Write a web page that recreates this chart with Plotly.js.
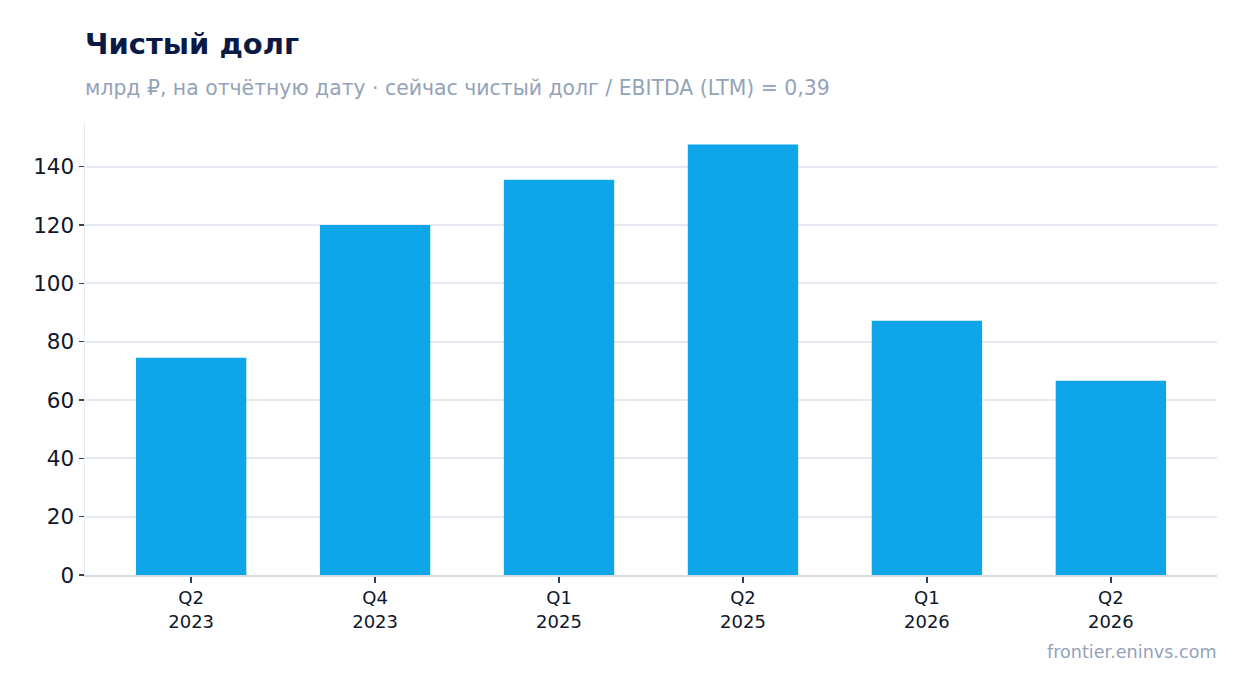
<!DOCTYPE html>
<html><head><meta charset="utf-8">
<script src="https://cdn.plot.ly/plotly-3.0.1.min.js"></script>
<style>html,body{margin:0;padding:0;background:#fff;}#c{width:1247px;height:693px;}</style>
</head><body><div id="c"></div>
<script>
const categories = ["Q2<br>2023","Q4<br>2023","Q1<br>2025","Q2<br>2025","Q1<br>2026","Q2<br>2026"];
const netDebt = [74.5, 120.0, 135.5, 147.6, 87.2, 66.6];
const yTicks = [0,20,40,60,80,100,120,140];
const titleText = "Чистый долг";
const subtitleText = "млрд ₽, на отчётную дату · сейчас чистый долг / EBITDA (LTM) = 0,39";
const sourceText = "frontier.eninvs.com";

const font = "DejaVu Sans, sans-serif";
Plotly.newPlot('c', [{
  type:'bar', x: categories, y: netDebt,
  marker:{color:'#0ea5e9'}, hoverinfo:'x+y'
}], {
  width:1247, height:693,
  margin:{l:85, r:30, t:123, b:118},
  paper_bgcolor:'#fff', plot_bgcolor:'#fff',
  bargap:0.4,
  font:{family:font, color:'#0f172a'},
  showlegend:false,
  xaxis:{type:'category', range:[-0.577,5.577], showline:true, linecolor:'#d5dae3', linewidth:1.5,
    ticks:'outside', ticklen:6, tickwidth:1.5, tickcolor:'#334155', tickfont:{size:18, color:'#0f172a', family:font},
    showgrid:false, zeroline:false},
  yaxis:{range:[0,155], tickvals:yTicks, showline:true, linecolor:'#e2e8f0', linewidth:1.5,
    ticks:'outside', ticklen:5, tickwidth:1.5, tickcolor:'#334155', tickfont:{size:21.5, color:'#0f172a', family:font},
    gridcolor:'#e6e9f0', gridwidth:2, zeroline:false},
  annotations:[
    {text:'<b>'+titleText+'</b>', xref:'paper', yref:'paper', x:0, y:1.1748, xanchor:'left', yanchor:'middle',
     xshift:-2, showarrow:false, font:{size:29, color:'#0b1a44', family:font}},
    {text:subtitleText, xref:'paper', yref:'paper', x:0, y:1.0774, xanchor:'left', yanchor:'middle',
     xshift:-2, showarrow:false, font:{size:20.4, color:'#94a3b8', family:font}},
    {text:sourceText, xref:'paper', yref:'paper', x:1, y:-0.1704, xanchor:'right', yanchor:'middle',
     xshift:2, showarrow:false, font:{size:17.6, color:'#94a3b8', family:font}}
  ]
}, {displayModeBar:false, staticPlot:true});
</script>
</body></html>
